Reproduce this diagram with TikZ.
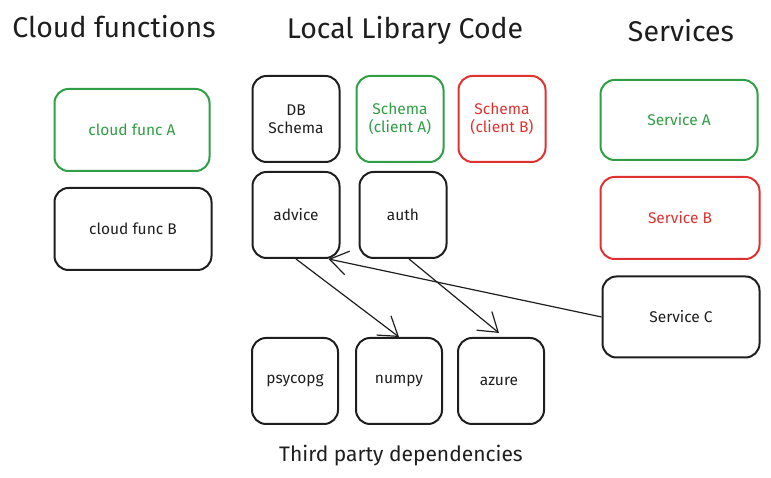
\documentclass[tikz,border=0pt]{standalone}
\usepackage{fontspec}
\setmainfont{Fira Sans}
\usetikzlibrary{arrows.meta}
\usetikzlibrary{positioning}
\definecolor{inkblack}{HTML}{1E1E1E}
\definecolor{inkgreen}{HTML}{2F9E44}
\definecolor{inkred}{HTML}{E03131}
\tikzset{box/.style={draw,
                     line width=2pt,
                     rounded corners=14pt,
                     align=center,
                     font=\fontsize{15.5}{18}\selectfont}}
\tikzset{dep/.style={draw=inkblack,
                     line width=1.2pt,
                     -{Straight Barb[length=18pt,width=24pt]}}}
\tikzset{title/.style={font=\fontsize{28.5}{32}\selectfont,text=inkblack}}

\begin{document}
\begin{tikzpicture}
      [
      x=1pt,y=1pt,
      ]
      \useasboundingbox (0,0) rectangle (771,478);

      % titles
      \node [title] (tcloud) at (114,451) {Cloud functions};
      \node [title] (tlocal) at (405,448) {Local Library Code};
      \node [title] (tserv) at (681,447) {Services};
      \node [title,font=\fontsize{21}{24}\selectfont] (tthird) at (401,22) {Third party dependencies};

      % boxes
      \foreach \n/\x/\y/\w/\h/\c/\t in
      {
      funcA/132/348/155/82/inkgreen/{cloud func A},
      funcB/133/249/157/82/inkblack/{cloud func B},
      dbschema/296/359/87/86/inkblack/{DB\\Schema},
      schemaA/400/359/87/86/inkgreen/{Schema\\(client A)},
      schemaB/502/359/87/86/inkred/{Schema\\(client B)},
      advice/296/263/87/86/inkblack/{advice},
      auth/403/263/87/86/inkblack/{auth},
      servA/679/358/157/80/inkgreen/{Service A},
      servB/680/260/159/82/inkred/{Service B},
      servC/681/161/157/81/inkblack/{Service C},
      psycopg/295/97/86/86/inkblack/{psycopg},
      numpy/399/97/86/86/inkblack/{numpy},
      azure/501/97/86/86/inkblack/{azure}
      }
      {
      \node [box,draw=\c,text=\c,minimum width=\w,minimum height=\h] (\n) at (\x,\y) {\t};
      }

      % dependencies
      \draw [dep] (advice.south) -- (numpy.north);
      \draw [dep] ([xshift=6pt]auth.south) -- ([xshift=-2pt,yshift=4pt]azure.north);
      \draw [dep] (servC.west) -- ([xshift=-12pt]advice.south east);

\end{tikzpicture}
\end{document}
